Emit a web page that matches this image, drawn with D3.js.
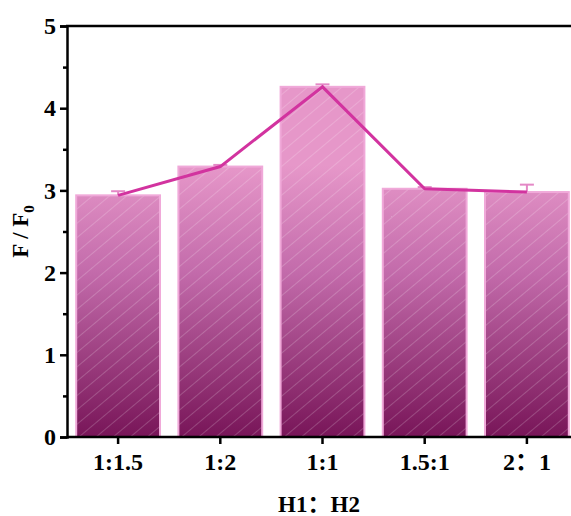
<!DOCTYPE html>
<html>
<head>
<meta charset="utf-8">
<script src="https://cdn.jsdelivr.net/npm/d3@7"></script>
<style>
  body { margin: 0; background: #fff; }
  svg { display: block; font-family: "Liberation Serif", "Times New Roman", serif; }
</style>
</head>
<body>
<div id="chart"></div>
<script>
// data
const categories = ["1:1.5", "1:2", "1:1", "1.5:1", "2：1"];
const ratioValues = [2.94, 3.29, 4.26, 3.02, 2.98];
const ratioErrors = [0.05, 0.02, 0.03, 0.02, 0.09];
const yTicks = [0, 1, 2, 3, 4, 5];

const W = 571, H = 516;
const margin = { top: 26, left: 67, bottom: 79 };
const plotBottom = H - margin.bottom;
const fontStack = "'Liberation Serif', 'Noto Sans CJK SC', serif";

const data = categories.map((c, i) => ({ cat: c, v: ratioValues[i], e: ratioErrors[i] }));

const svg = d3.select("#chart").append("svg")
    .attr("width", W)
    .attr("height", H);

const x = d3.scaleBand()
    .domain(categories)
    .range([margin.left, 578])
    .paddingInner(0.18)
    .paddingOuter(0.09);
const y = d3.scaleLinear()
    .domain([0, 5])
    .range([plotBottom, margin.top]);

const defs = svg.append("defs");

// vertical gradient, same for every bar
const grad = defs.append("linearGradient")
    .attr("id", "barGrad")
    .attr("gradientUnits", "userSpaceOnUse")
    .attr("x1", 0).attr("x2", 0)
    .attr("y1", y(3.3)).attr("y2", y(0));
grad.append("stop").attr("offset", 0).attr("stop-color", "#e697c9");
grad.append("stop").attr("offset", 0.4).attr("stop-color", "#c26aaa");
grad.append("stop").attr("offset", 1).attr("stop-color", "#781558");

// diagonal hatch
const pat = defs.append("pattern")
    .attr("id", "hatch")
    .attr("patternUnits", "userSpaceOnUse")
    .attr("width", 11).attr("height", 11)
    .attr("patternTransform", "rotate(50)");
pat.append("line")
    .attr("x1", 0).attr("y1", 0)
    .attr("x2", 0).attr("y2", 11)
    .attr("stroke", "rgba(255,255,255,0.38)")
    .attr("stroke-width", 1);

// bars
const bars = svg.append("g");
bars.selectAll(".bar")
    .data(data)
    .enter().append("rect")
    .attr("x", d => x(d.cat))
    .attr("y", d => y(d.v))
    .attr("width", x.bandwidth())
    .attr("height", d => y(0) - y(d.v))
    .attr("fill", "url(#barGrad)")
    .attr("stroke", "#f0a9d9")
    .attr("stroke-width", 2);
bars.selectAll(".hatch")
    .data(data)
    .enter().append("rect")
    .attr("x", d => x(d.cat) + 1)
    .attr("y", d => y(d.v) + 1)
    .attr("width", x.bandwidth() - 2)
    .attr("height", d => y(0) - y(d.v) - 1)
    .attr("fill", "url(#hatch)");

// error bars (upper only)
const eb = svg.append("g").attr("stroke", "#e488c6").attr("stroke-width", 2);
data.forEach(d => {
    const cx = x(d.cat) + x.bandwidth() / 2;
    eb.append("line")
        .attr("x1", cx).attr("x2", cx)
        .attr("y1", y(d.v)).attr("y2", y(d.v + d.e));
    eb.append("line")
        .attr("x1", cx - 7).attr("x2", cx + 7)
        .attr("y1", y(d.v + d.e)).attr("y2", y(d.v + d.e));
});

// trend line
const line = d3.line()
    .x(d => x(d.cat) + x.bandwidth() / 2)
    .y(d => y(d.v));
svg.append("path")
    .datum(data)
    .attr("fill", "none")
    .attr("stroke", "#d2339f")
    .attr("stroke-width", 3)
    .attr("d", line);

// axes
const yAxis = svg.append("g")
    .attr("transform", `translate(${margin.left},0)`)
    .call(d3.axisLeft(y).tickValues(yTicks).tickFormat(d3.format("d")).tickSize(7).tickPadding(4));
svg.append("g")
    .attr("transform", `translate(${margin.left},0)`)
    .call(d3.axisLeft(y).tickValues([0.5, 1.5, 2.5, 3.5, 4.5]).tickFormat("").tickSize(4))
    .call(g => g.select(".domain").remove());
const xAxis = svg.append("g")
    .attr("transform", `translate(0,${plotBottom})`)
    .call(d3.axisBottom(x).tickSize(7).tickPadding(9));
xAxis.select(".domain").attr("d", `M${margin.left},0H${W}`);

[yAxis, xAxis].forEach(g => {
    g.selectAll("text")
        .attr("fill", "#000")
        .style("font-size", "24px")
        .style("font-weight", "bold")
        .style("font-family", fontStack);
});
svg.selectAll(".domain").attr("stroke", "#000").attr("stroke-width", 2.5);
svg.selectAll(".tick line").attr("stroke", "#000").attr("stroke-width", 2.5);

// top border
svg.append("line")
    .attr("x1", margin.left - 1).attr("x2", W)
    .attr("y1", margin.top).attr("y2", margin.top)
    .attr("stroke", "#000").attr("stroke-width", 2.5);

// axis titles
const yTitle = svg.append("text")
    .attr("transform", `translate(28,${(margin.top + plotBottom) / 2}) rotate(-90)`)
    .attr("text-anchor", "middle")
    .style("font-size", "23px")
    .style("font-weight", "bold");
yTitle.append("tspan").text("F / F");
yTitle.append("tspan").attr("dy", 6).style("font-size", "15px").text("0");

svg.append("text")
    .attr("x", 319)
    .attr("y", 512)
    .attr("text-anchor", "middle")
    .style("font-size", "23px")
    .style("font-weight", "bold")
    .style("font-family", fontStack)
    .text("H1：H2");
</script>
</body>
</html>
